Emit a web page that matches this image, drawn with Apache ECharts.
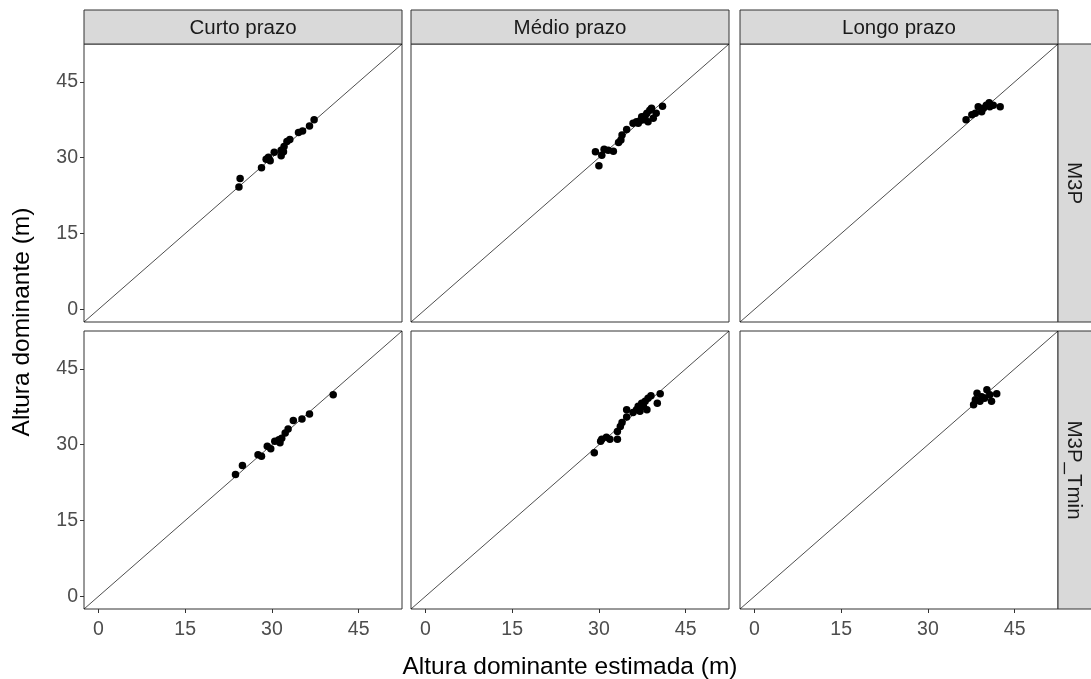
<!DOCTYPE html>
<html><head><meta charset="utf-8">
<script src="https://cdn.jsdelivr.net/npm/echarts@6/dist/echarts.min.js"></script>
<style>html,body{margin:0;padding:0;background:#fff}#c{width:1091px;height:679px}</style>
</head><body><div id="c"></div>
<script>
const colLabels = ['Curto prazo', 'Médio prazo', 'Longo prazo'];
const rowLabels = ['M3P', 'M3P_Tmin'];
const tickValues = [0, 15, 30, 45];
const axisRange = [-2.5, 52.5];
const identityLine = [[-2.5, -2.5], [52.5, 52.5]];

// [estimated, observed]
const m3pCurto = [[24.5,25.9],[24.3,24.2],[28.2,28.0],[29.0,29.7],[29.7,29.4],[29.4,30.1],[30.4,31.1],[31.6,30.4],[31.6,31.5],[32.0,31.2],[32.1,32.2],[32.6,33.2],[33.1,33.6],[34.6,35.0],[35.3,35.3],[36.5,36.3],[37.3,37.5]];
const m3pMedio = [[30.0,28.4],[29.4,31.2],[30.5,30.5],[30.9,31.7],[31.6,31.5],[32.5,31.3],[33.4,33.0],[33.8,33.5],[34.0,34.5],[34.8,35.6],[35.9,36.8],[36.5,37.1],[36.8,36.8],[37.1,37.3],[37.4,38.1],[37.7,37.5],[38.0,38.3],[38.3,38.8],[38.5,37.1],[38.8,39.4],[39.1,39.8],[39.4,37.8],[39.9,38.8],[41.0,40.2]];
const m3pLongo = [[36.6,37.5],[37.6,38.5],[38.2,38.8],[38.7,40.1],[39.3,39.1],[39.6,39.8],[40.1,40.4],[40.6,40.9],[40.7,40.1],[41.3,40.4],[42.5,40.1]];
const tminCurto = [[23.7,24.1],[24.9,25.9],[27.6,28.0],[28.2,27.7],[29.2,29.7],[29.8,29.2],[30.5,30.7],[31.2,31.0],[31.4,30.4],[31.7,31.3],[32.3,32.3],[32.8,33.1],[33.7,34.8],[35.2,35.1],[36.5,36.1],[40.6,39.9]];
const tminMedio = [[29.2,28.4],[30.3,30.7],[30.5,31.1],[31.3,31.5],[31.9,31.1],[33.2,31.1],[33.2,32.6],[33.7,33.6],[34.0,34.4],[34.8,35.5],[34.8,36.9],[35.9,36.4],[36.5,36.9],[36.8,37.6],[37.1,36.6],[37.4,38.2],[37.7,37.6],[38.0,38.6],[38.3,36.9],[38.5,39.2],[39.0,39.7],[40.1,38.2],[40.6,40.1]];
const tminLongo = [[37.9,37.9],[38.2,38.9],[38.5,40.2],[39.0,38.6],[39.3,39.5],[39.8,39.2],[40.2,40.9],[40.7,39.9],[41.0,38.6],[41.9,40.1]];

const panelData = [[m3pCurto, m3pMedio, m3pLongo], [tminCurto, tminMedio, tminLongo]];

const FONT = "'Liberation Sans', Arial, sans-serif";
const lefts = [84, 411, 740];
const tops = [44, 331];
const W = 318, H = 278;

const grid = [], xAxis = [], yAxis = [], series = [], graphic = [];
let idx = 0;
for (let r = 0; r < 2; r++) {
  for (let c = 0; c < 3; c++) {
    grid.push({left: lefts[c], top: tops[r], width: W, height: H, show: true,
      borderColor: '#333333', borderWidth: 1, backgroundColor: '#ffffff'});
    xAxis.push({type: 'value', gridIndex: idx, min: axisRange[0], max: axisRange[1], position: 'bottom',
      axisLine: {show: false, onZero: false}, splitLine: {show: false},
      axisTick: {show: r === 1, length: 4, lineStyle: {color: '#333333'}, customValues: tickValues},
      axisLabel: {show: r === 1, customValues: tickValues, color: '#4D4D4D', fontSize: 19.5, fontFamily: FONT, margin: 11}});
    yAxis.push({type: 'value', gridIndex: idx, min: axisRange[0], max: axisRange[1], position: 'left',
      axisLine: {show: false, onZero: false}, splitLine: {show: false},
      axisTick: {show: c === 0, length: 4, lineStyle: {color: '#333333'}, customValues: tickValues},
      axisLabel: {show: c === 0, customValues: tickValues, color: '#4D4D4D', fontSize: 19.5, fontFamily: FONT, margin: 6}});
    series.push({type: 'line', xAxisIndex: idx, yAxisIndex: idx, data: identityLine,
      symbol: 'none', silent: true, clip: true, lineStyle: {color: '#000', width: 0.7}});
    series.push({type: 'scatter', xAxisIndex: idx, yAxisIndex: idx, data: panelData[r][c],
      symbolSize: 7.5, itemStyle: {color: '#000', opacity: 1}});
    idx++;
  }
}
// top strips
for (let c = 0; c < 3; c++) {
  graphic.push({type: 'rect', shape: {x: lefts[c], y: 10, width: W, height: 34},
    style: {fill: '#D9D9D9', stroke: '#333333', lineWidth: 1}});
  graphic.push({type: 'text', x: lefts[c] + W / 2, y: 28,
    style: {text: colLabels[c], fill: '#1A1A1A', font: '20.5px ' + FONT, align: 'center', verticalAlign: 'middle'}});
}
// right strips
for (let r = 0; r < 2; r++) {
  graphic.push({type: 'rect', shape: {x: 1058, y: tops[r], width: 40, height: H},
    style: {fill: '#D9D9D9', stroke: '#333333', lineWidth: 1}});
  graphic.push({type: 'text', x: 1074, y: tops[r] + H / 2, rotation: -Math.PI / 2,
    style: {text: rowLabels[r], fill: '#1A1A1A', font: '20.5px ' + FONT, align: 'center', verticalAlign: 'middle'}});
}
graphic.push({type: 'text', x: 570, y: 667,
  style: {text: 'Altura dominante estimada (m)', fill: '#000', font: '24.5px ' + FONT, align: 'center', verticalAlign: 'middle'}});
graphic.push({type: 'text', x: 22, y: 322, rotation: Math.PI / 2,
  style: {text: 'Altura dominante (m)', fill: '#000', font: '24.5px ' + FONT, align: 'center', verticalAlign: 'middle'}});

const chart = echarts.init(document.getElementById('c'), null, {renderer: 'canvas'});
chart.setOption({animation: false, backgroundColor: '#fff', grid, xAxis, yAxis, series, graphic});
</script></body></html>
